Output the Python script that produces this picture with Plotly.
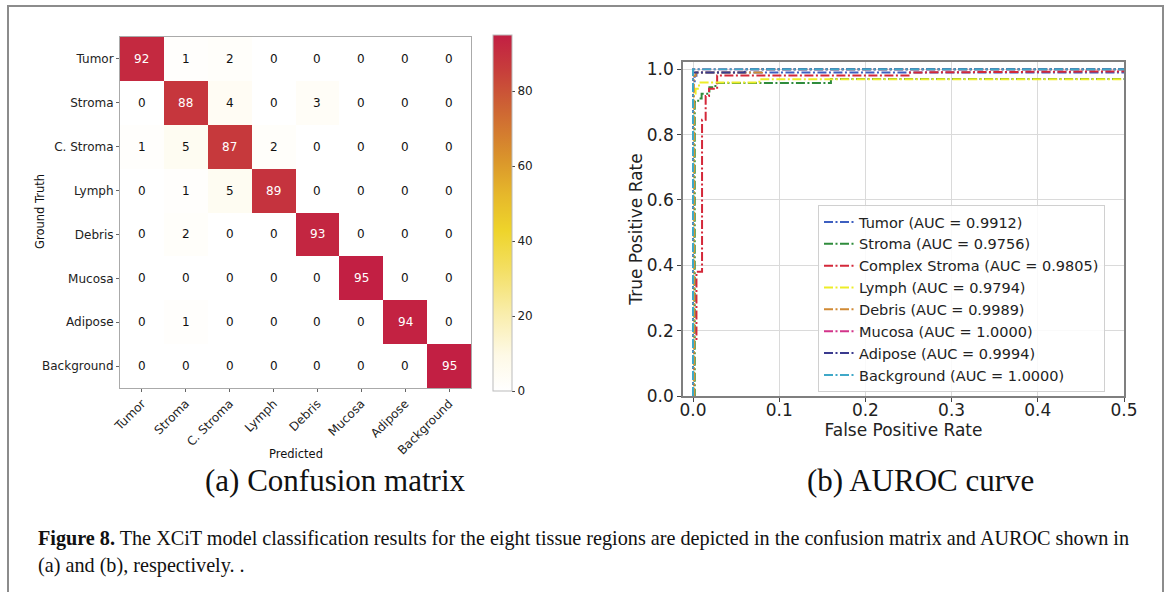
import plotly.graph_objects as go

W, H = 1168, 592

# ---------------- data ----------------
classes_short = ["Tumor", "Stroma", "C. Stroma", "Lymph", "Debris", "Mucosa", "Adipose", "Background"]
confusion = [
    [92, 1, 2, 0, 0, 0, 0, 0],
    [0, 88, 4, 0, 3, 0, 0, 0],
    [1, 5, 87, 2, 0, 0, 0, 0],
    [0, 1, 5, 89, 0, 0, 0, 0],
    [0, 2, 0, 0, 93, 0, 0, 0],
    [0, 0, 0, 0, 0, 95, 0, 0],
    [0, 1, 0, 0, 0, 0, 94, 0],
    [0, 0, 0, 0, 0, 0, 0, 95],
]
cbar_ticks = [0, 20, 40, 60, 80]

roc_names = ["Tumor", "Stroma", "Complex Stroma", "Lymph", "Debris", "Mucosa", "Adipose", "Background"]
roc_auc = ["0.9912", "0.9756", "0.9805", "0.9794", "0.9989", "1.0000", "0.9994", "1.0000"]

tumor_fpr = [0, 0, 0.002, 0.002, 0.004, 0.004, 0.88, 0.88, 1]
tumor_tpr = [0, 0.96, 0.96, 0.98, 0.98, 0.99, 0.99, 1.0, 1.0]

stroma_fpr = [0, 0.002, 0.002, 0.006, 0.006, 0.010, 0.010, 0.019, 0.019, 0.026, 0.026, 0.16, 0.16, 0.70, 0.70, 1]
stroma_tpr = [0, 0, 0.90, 0.90, 0.91, 0.91, 0.925, 0.925, 0.945, 0.945, 0.958, 0.958, 0.97, 0.97, 1.0, 1.0]

cstroma_fpr = [0, 0.0012, 0.0012, 0.004, 0.004, 0.0105, 0.0105, 0.0147, 0.0147, 0.0186, 0.0186, 0.028, 0.028, 0.25, 0.25, 0.86, 0.86, 1]
cstroma_tpr = [0, 0, 0.17, 0.17, 0.38, 0.38, 0.845, 0.845, 0.918, 0.918, 0.94, 0.94, 0.981, 0.981, 0.99, 0.99, 1.0, 1.0]

lymph_fpr = [0, 0.001, 0.001, 0.003, 0.003, 0.007, 0.007, 0.077, 0.077, 0.66, 0.66, 1]
lymph_tpr = [0, 0, 0.92, 0.92, 0.94, 0.94, 0.959, 0.959, 0.969, 0.969, 1.0, 1.0]

debris_fpr = [0, 0.001, 0.001, 0.003, 0.003, 0.08, 0.08, 1]
debris_tpr = [0, 0, 0.98, 0.98, 0.99, 0.99, 1.0, 1.0]

mucosa_fpr = [0, 0, 1]
mucosa_tpr = [0, 1.0, 1.0]

adipose_fpr = [0, 0, 0.06, 0.06, 1]
adipose_tpr = [0, 0.99, 0.99, 1.0, 1.0]

background_fpr = [0, 0, 1]
background_tpr = [0, 1.0, 1.0]

roc_fprs = [tumor_fpr, stroma_fpr, cstroma_fpr, lymph_fpr, debris_fpr, mucosa_fpr, adipose_fpr, background_fpr]
roc_tprs = [tumor_tpr, stroma_tpr, cstroma_tpr, lymph_tpr, debris_tpr, mucosa_tpr, adipose_tpr, background_tpr]
roc_colors = ["#3D5FC0", "#2F8C3C", "#D4283A", "#EDED28", "#D18A35", "#D3348A", "#3A3A8E", "#3FA8C8"]

x_ticks = [0.0, 0.1, 0.2, 0.3, 0.4, 0.5]
y_ticks = [0.0, 0.2, 0.4, 0.6, 0.8, 1.0]

# ---------------- helpers (layout only) ----------------
def px_x(p):
    return p / W

def px_y(p):
    return 1 - p / H

SANS = "DejaVu Sans"
SERIF = "Liberation Serif"

fig = go.Figure()

colorscale = [
    [0.0, "#FFFFFF"],
    [0.10, "#FEF9E6"],
    [0.22, "#F9EDAA"],
    [0.35, "#F3DE5E"],
    [0.45, "#EED42B"],
    [0.55, "#E6B82B"],
    [0.65, "#DA952B"],
    [0.80, "#CD6234"],
    [0.90, "#C73E3B"],
    [1.0, "#C21F43"],
]

fig.add_trace(go.Heatmap(
    z=confusion, x=classes_short, y=classes_short,
    colorscale=colorscale, zmin=0, zmax=95,
    xaxis="x", yaxis="y",
    colorbar=dict(
        x=px_x(493), xanchor="left", xref="paper", xpad=0, ypad=0,
        y=px_y(213), yanchor="middle",
        thickness=19, thicknessmode="pixels",
        len=356, lenmode="pixels",
        outlinecolor="#BBBBBB", outlinewidth=1,
        tickvals=cbar_ticks, ticks="outside", ticklen=3, tickcolor="#444",
        tickfont=dict(family=SANS, size=12, color="#222"),
    ),
    hoverinfo="skip",
))

annotations = []
for i, row in enumerate(confusion):
    for j, v in enumerate(row):
        annotations.append(dict(
            x=classes_short[j], y=classes_short[i], xref="x", yref="y",
            xanchor="center", yanchor="middle",
            text=str(v), showarrow=False,
            font=dict(family=SANS, size=12, color="white" if v > 50 else "#111"),
        ))

for k in range(len(roc_names)):
    fig.add_trace(go.Scatter(
        x=roc_fprs[k], y=roc_tprs[k], mode="lines",
        name=f"{roc_names[k]} (AUC = {roc_auc[k]})",
        line=dict(color=roc_colors[k], width=2, dash="9px,2.5px,2px,2.5px"),
        xaxis="x2", yaxis="y2",
        hoverinfo="skip",
    ))

fig.update_layout(
    template="none",
    width=W, height=H, autosize=False,
    margin=dict(l=0, r=0, t=0, b=0, pad=0, autoexpand=False),
    paper_bgcolor="white", plot_bgcolor="white",
    font=dict(family=SANS, color="#222"),
    xaxis=dict(
        domain=[px_x(120), px_x(471)], anchor="y", automargin=False,
        type="category", tickangle=-45,
        tickfont=dict(family=SANS, size=12, color="#222"),
        ticks="outside", ticklen=3, tickcolor="#666",
        showline=True, mirror=True, linecolor="#AAAAAA", linewidth=1,
        showgrid=False, zeroline=False,
    ),
    yaxis=dict(
        domain=[px_y(388), px_y(37)], anchor="x", automargin=False,
        type="category", autorange="reversed",
        tickfont=dict(family=SANS, size=12, color="#222"),
        ticks="outside", ticklen=3, tickcolor="#666",
        showline=True, mirror=True, linecolor="#AAAAAA", linewidth=1,
        showgrid=False, zeroline=False,
    ),
    xaxis2=dict(
        domain=[px_x(683), px_x(1124)], anchor="y2", automargin=False,
        range=[-0.0116, 0.5], tickvals=x_ticks, tickformat=".1f",
        tickfont=dict(family=SANS, size=17, color="#222"),
        ticks="outside", ticklen=4, tickcolor="#444", ticklabelstandoff=-6,
        showgrid=True, gridcolor="#DADADA", gridwidth=1, zeroline=False,
        showline=True, mirror=True, linecolor="#7F7F7F", linewidth=1.5,
        title=dict(text="False Positive Rate", font=dict(family=SANS, size=17, color="#222"), standoff=2),
    ),
    yaxis2=dict(
        domain=[px_y(396), px_y(62)], anchor="x2", automargin=False,
        range=[0, 1.022], tickvals=y_ticks, tickformat=".1f",
        tickfont=dict(family=SANS, size=17, color="#222"),
        ticks="outside", ticklen=4, tickcolor="#444",
        showgrid=True, gridcolor="#DADADA", gridwidth=1, zeroline=False,
        showline=True, mirror=True, linecolor="#7F7F7F", linewidth=1.5,
        title=dict(text="True Positive Rate", font=dict(family=SANS, size=17, color="#222"), standoff=0),
    ),
    legend=dict(
        x=px_x(818), y=px_y(205), xanchor="left", yanchor="top",
        bgcolor="rgba(255,255,255,0.85)", bordercolor="#D0D0D0", borderwidth=1,
        font=dict(family=SANS, size=14.5, color="#222"),
        tracegroupgap=0,
    ),
    showlegend=True,
)

def label(x, y, text, size, family, angle=0, xanchor="center"):
    return dict(x=px_x(x), y=px_y(y), xref="paper", yref="paper", text=text,
                xanchor=xanchor, yanchor="middle", textangle=angle,
                showarrow=False, font=dict(family=family, size=size, color="#111"))

annotations += [
    label(296, 454, "Predicted", 11.5, SANS),
    label(40, 212, "Ground Truth", 11.5, SANS, angle=-90),
    label(335, 480, "(a) Confusion matrix", 31, SERIF),
    label(920, 480, "(b) AUROC curve", 31, SERIF),
    label(36, 538, "<b>Figure 8.</b> The XCiT model classification results for the eight tissue regions are depicted in the confusion matrix and AUROC shown in", 20.2, SERIF, xanchor="left"),
    label(36, 565, "(a) and (b), respectively. .", 20.2, SERIF, xanchor="left"),
]
fig.update_layout(annotations=annotations)

fig.add_shape(type="rect", xref="paper", yref="paper",
              x0=px_x(8), x1=px_x(1163), y0=-0.1, y1=px_y(6),
              line=dict(color="#8C8C8C", width=2), fillcolor="rgba(0,0,0,0)", layer="below")

fig.write_html(
    "out.html",
    config={"displayModeBar": False},
    post_script="document.body.style.margin='0px';document.body.style.overflow='hidden';",
)
